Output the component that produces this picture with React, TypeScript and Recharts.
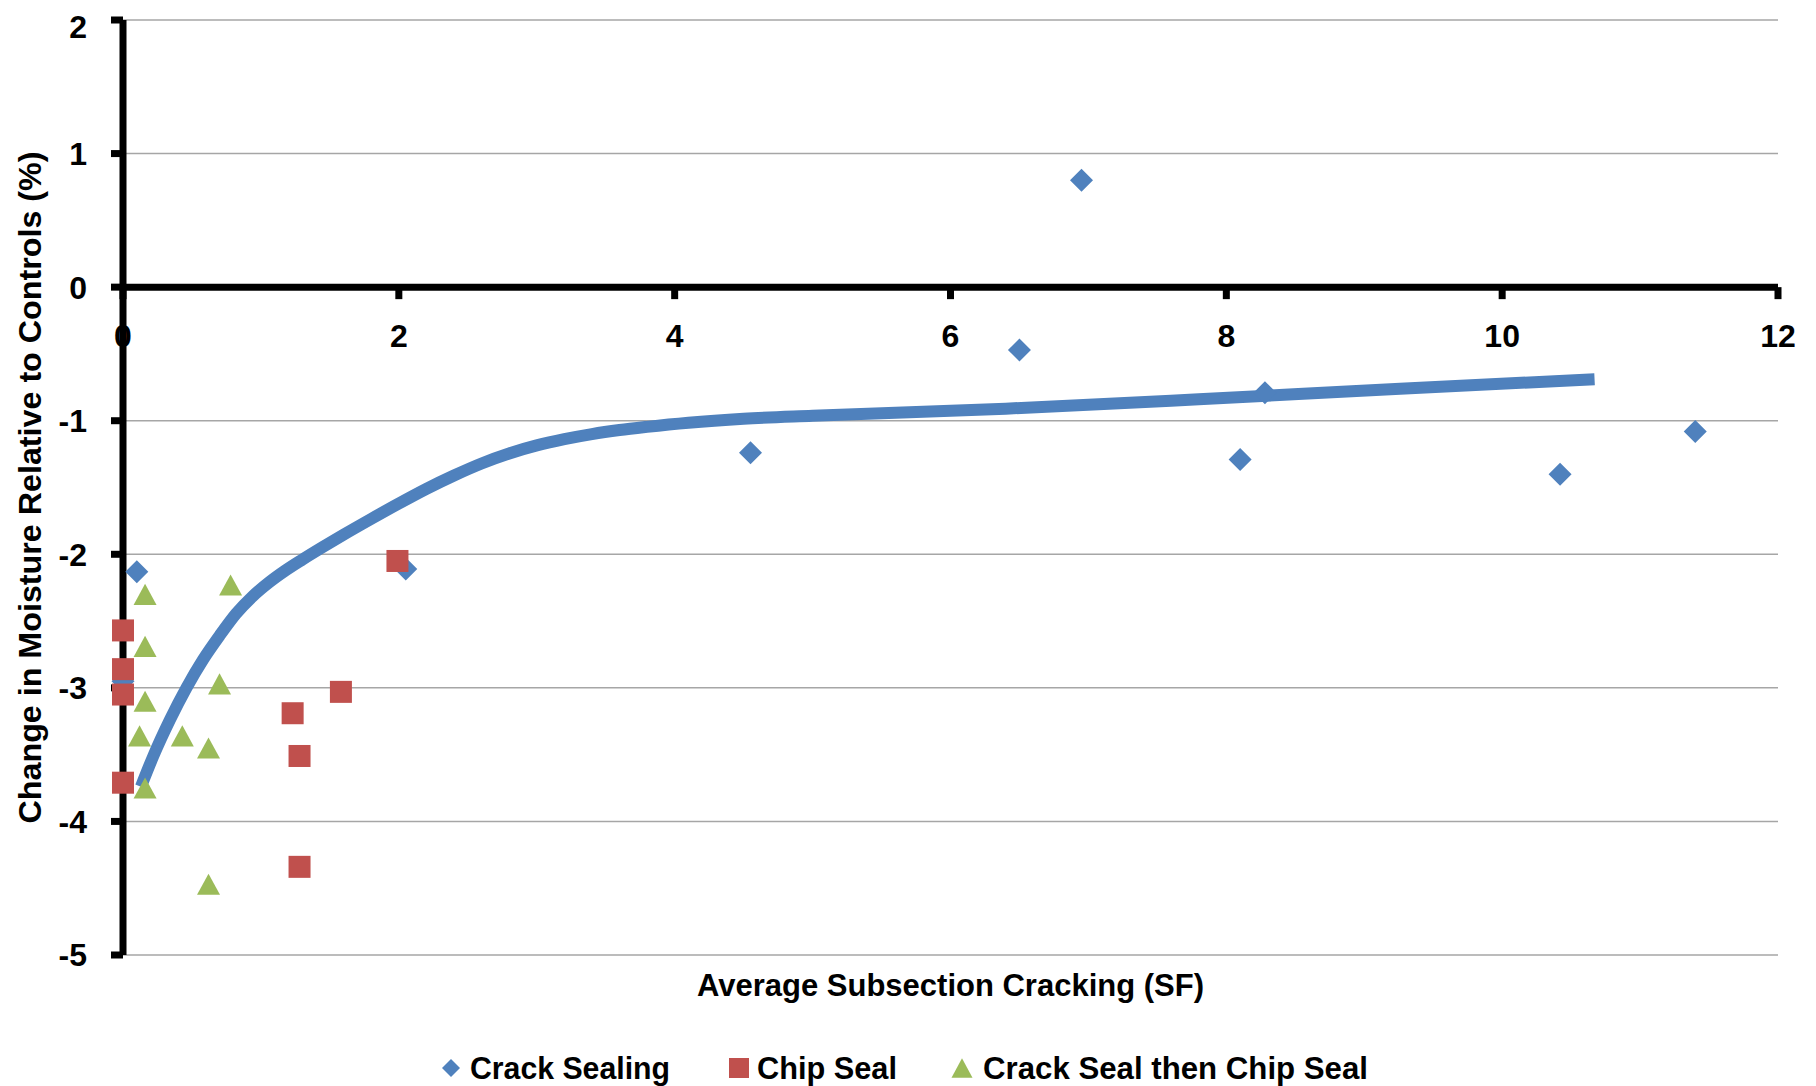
import React from "react";
import {
  CartesianGrid,
  ComposedChart,
  Line,
  ReferenceDot,
  ReferenceLine,
  Scatter,
  XAxis,
  YAxis,
} from "recharts";

// values
const crackSealingX = [6.95, 6.5, 4.55, 8.28, 8.1, 10.42, 11.4, 0.1, 2.05, 0.0];
const crackSealingY = [0.8, -0.47, -1.24, -0.79, -1.29, -1.4, -1.08, -2.13, -2.11, -2.95];

const chipSealX = [1.99, 0, 0, 0, 0, 1.23, 1.58, 1.28, 1.28];
const chipSealY = [-2.05, -2.57, -2.86, -3.05, -3.71, -3.19, -3.03, -3.51, -4.34];

const crackThenChipX = [0.16, 0.16, 0.78, 0.7, 0.16, 0.12, 0.43, 0.62, 0.16, 0.62];
const crackThenChipY = [-2.3, -2.69, -2.23, -2.97, -3.1, -3.36, -3.36, -3.45, -3.75, -4.47];

// trend curve, traced point by point
const trendX = [0.13, 0.22, 0.34, 0.46, 0.58, 0.7, 0.82, 0.94, 1.06, 1.18, 1.3, 1.45, 1.6, 1.8, 2.0, 2.2, 2.4, 2.6, 2.8, 3.0, 3.2, 3.4, 3.6, 3.8, 4.1, 4.5, 5.0, 6.4, 7.8, 9.26, 10.67];
const trendY = [-3.74, -3.51, -3.24, -3.0, -2.79, -2.61, -2.445, -2.315, -2.21, -2.12, -2.04, -1.945, -1.853, -1.735, -1.62, -1.51, -1.41, -1.32, -1.245, -1.185, -1.138, -1.1, -1.07, -1.046, -1.015, -0.985, -0.962, -0.91, -0.84, -0.76, -0.69];

const xTicks = [0, 2, 4, 6, 8, 10, 12];
const yTicks = [-5, -4, -3, -2, -1, 0, 1, 2];

const seriesNames = ["Crack Sealing", "Chip Seal", "Crack Seal then Chip Seal"];
const seriesColors = ["#4F81BD", "#C0504D", "#9BBB59"];

const FONT = "'Liberation Sans', Arial, sans-serif";

const toPoints = (xs: number[], ys: number[]) => xs.map((x, i) => ({ x, y: ys[i] }));

const crackSealing = toPoints(crackSealingX, crackSealingY);
const chipSeal = toPoints(chipSealX, chipSealY);
const crackThenChip = toPoints(crackThenChipX, crackThenChipY);
const trend = toPoints(trendX, trendY);

function Diamond({ cx, cy, fill, r = 11.5 }: any) {
  if (cx == null || cy == null) return null;
  return <polygon fill={fill} points={`${cx},${cy - r} ${cx + r},${cy} ${cx},${cy + r} ${cx - r},${cy}`} />;
}

function Square({ cx, cy, fill, r = 11 }: any) {
  if (cx == null || cy == null) return null;
  return <rect fill={fill} height={r * 2} width={r * 2} x={cx - r} y={cy - r} />;
}

function Triangle({ cx, cy, fill, r = 11.5 }: any) {
  if (cx == null || cy == null) return null;
  const h = r * 0.92;
  return <polygon fill={fill} points={`${cx},${cy - h} ${cx + r},${cy + h} ${cx - r},${cy + h}`} />;
}

function XTick({ cx, cy, label }: any) {
  if (cx == null || cy == null) return null;
  return (
    <g>
      <rect fill="#000" height={12} width={7} x={cx - 3.5} y={cy} />
      <text
        dominantBaseline="central"
        fill="#000"
        fontFamily={FONT}
        fontSize={32}
        fontWeight="bold"
        textAnchor="middle"
        x={cx}
        y={cy + 49}
      >
        {label}
      </text>
    </g>
  );
}

function YTitle({ viewBox }: any) {
  const x = viewBox.x + 22;
  const y = viewBox.y + viewBox.height / 2;
  return (
    <text
      dominantBaseline="central"
      fill="#000"
      fontFamily={FONT}
      fontSize={31}
      fontWeight="bold"
      lengthAdjust="spacingAndGlyphs"
      textAnchor="middle"
      textLength={672}
      transform={`rotate(-90, ${x}, ${y})`}
      x={x}
      y={y}
    >
      Change in Moisture Relative to Controls (%)
    </text>
  );
}

function XTitle({ viewBox }: any) {
  return (
    <text
      dominantBaseline="central"
      fill="#000"
      fontFamily={FONT}
      fontSize={31}
      fontWeight="bold"
      lengthAdjust="spacingAndGlyphs"
      textAnchor="middle"
      textLength={507}
      x={viewBox.x + viewBox.width / 2}
      y={viewBox.y + 30}
    >
      Average Subsection Cracking (SF)
    </text>
  );
}

const legendLayout = [
  { marker: 443, text: 462, len: 200 },
  { marker: 731, text: 749, len: 140 },
  { marker: 954, text: 975, len: 385 },
];

function ChartLegend() {
  const markers = [Diamond, Square, Triangle];
  const sizes = [9, 10, 10.5];
  return (
    <svg height={68} style={{ position: "absolute", left: 0, top: 1010 }} width={1800}>
      {seriesNames.map((name, i) => {
        const Marker = markers[i];
        const pos = legendLayout[i];
        return (
          <g key={name}>
            <Marker cx={pos.marker} cy={50} fill={seriesColors[i]} r={sizes[i]} />
            <text
              dominantBaseline="central"
              fill="#000"
              fontFamily={FONT}
              fontSize={31}
              fontWeight="bold"
              lengthAdjust="spacingAndGlyphs"
              textLength={pos.len}
              x={pos.text}
              y={50}
            >
              {name}
            </text>
          </g>
        );
      })}
    </svg>
  );
}

export default function App() {
  return (
    <div style={{ position: "relative", width: 1800, height: 1078, background: "#fff" }}>
      <ComposedChart height={1010} margin={{ top: 12, right: 30, left: 0, bottom: 0 }} width={1800}>
        <CartesianGrid horizontal stroke="#A6A6A6" strokeWidth={1.5} vertical={false} />
        <XAxis
          allowDuplicatedCategory={false}
          axisLine={false}
          dataKey="x"
          domain={[0, 12]}
          height={63}
          label={<XTitle />}
          tick={false}
          tickLine={false}
          ticks={xTicks}
          type="number"
        />
        <YAxis
          axisLine={{ stroke: "#000", strokeWidth: 7 }}
          dataKey="y"
          domain={[-5, 2]}
          label={<YTitle />}
          tick={{ fill: "#000", fontSize: 32, fontWeight: "bold", fontFamily: FONT }}
          tickLine={{ stroke: "#000", strokeWidth: 7 }}
          tickMargin={24}
          tickSize={12}
          ticks={yTicks}
          type="number"
          width={115}
        />
        <ReferenceLine stroke="#000" strokeWidth={7} y={0} />
        {xTicks.map((t) => (
          <ReferenceDot
            key={t}
            r={0}
            shape={(p: any) => <XTick {...p} label={t} />}
            x={t}
            y={0}
          />
        ))}
        <Scatter
          data={crackSealing}
          dataKey="y"
          fill={seriesColors[0]}
          isAnimationActive={false}
          name={seriesNames[0]}
          shape={<Diamond />}
        />
        <Scatter
          data={chipSeal}
          dataKey="y"
          fill={seriesColors[1]}
          isAnimationActive={false}
          name={seriesNames[1]}
          shape={<Square />}
        />
        <Scatter
          data={crackThenChip}
          dataKey="y"
          fill={seriesColors[2]}
          isAnimationActive={false}
          name={seriesNames[2]}
          shape={<Triangle />}
        />
        <Line
          activeDot={false}
          data={trend}
          dataKey="y"
          dot={false}
          isAnimationActive={false}
          name="Trend"
          stroke="#4F81BD"
          strokeWidth={12}
          type="monotoneX"
        />
      </ComposedChart>
      <ChartLegend />
    </div>
  );
}
